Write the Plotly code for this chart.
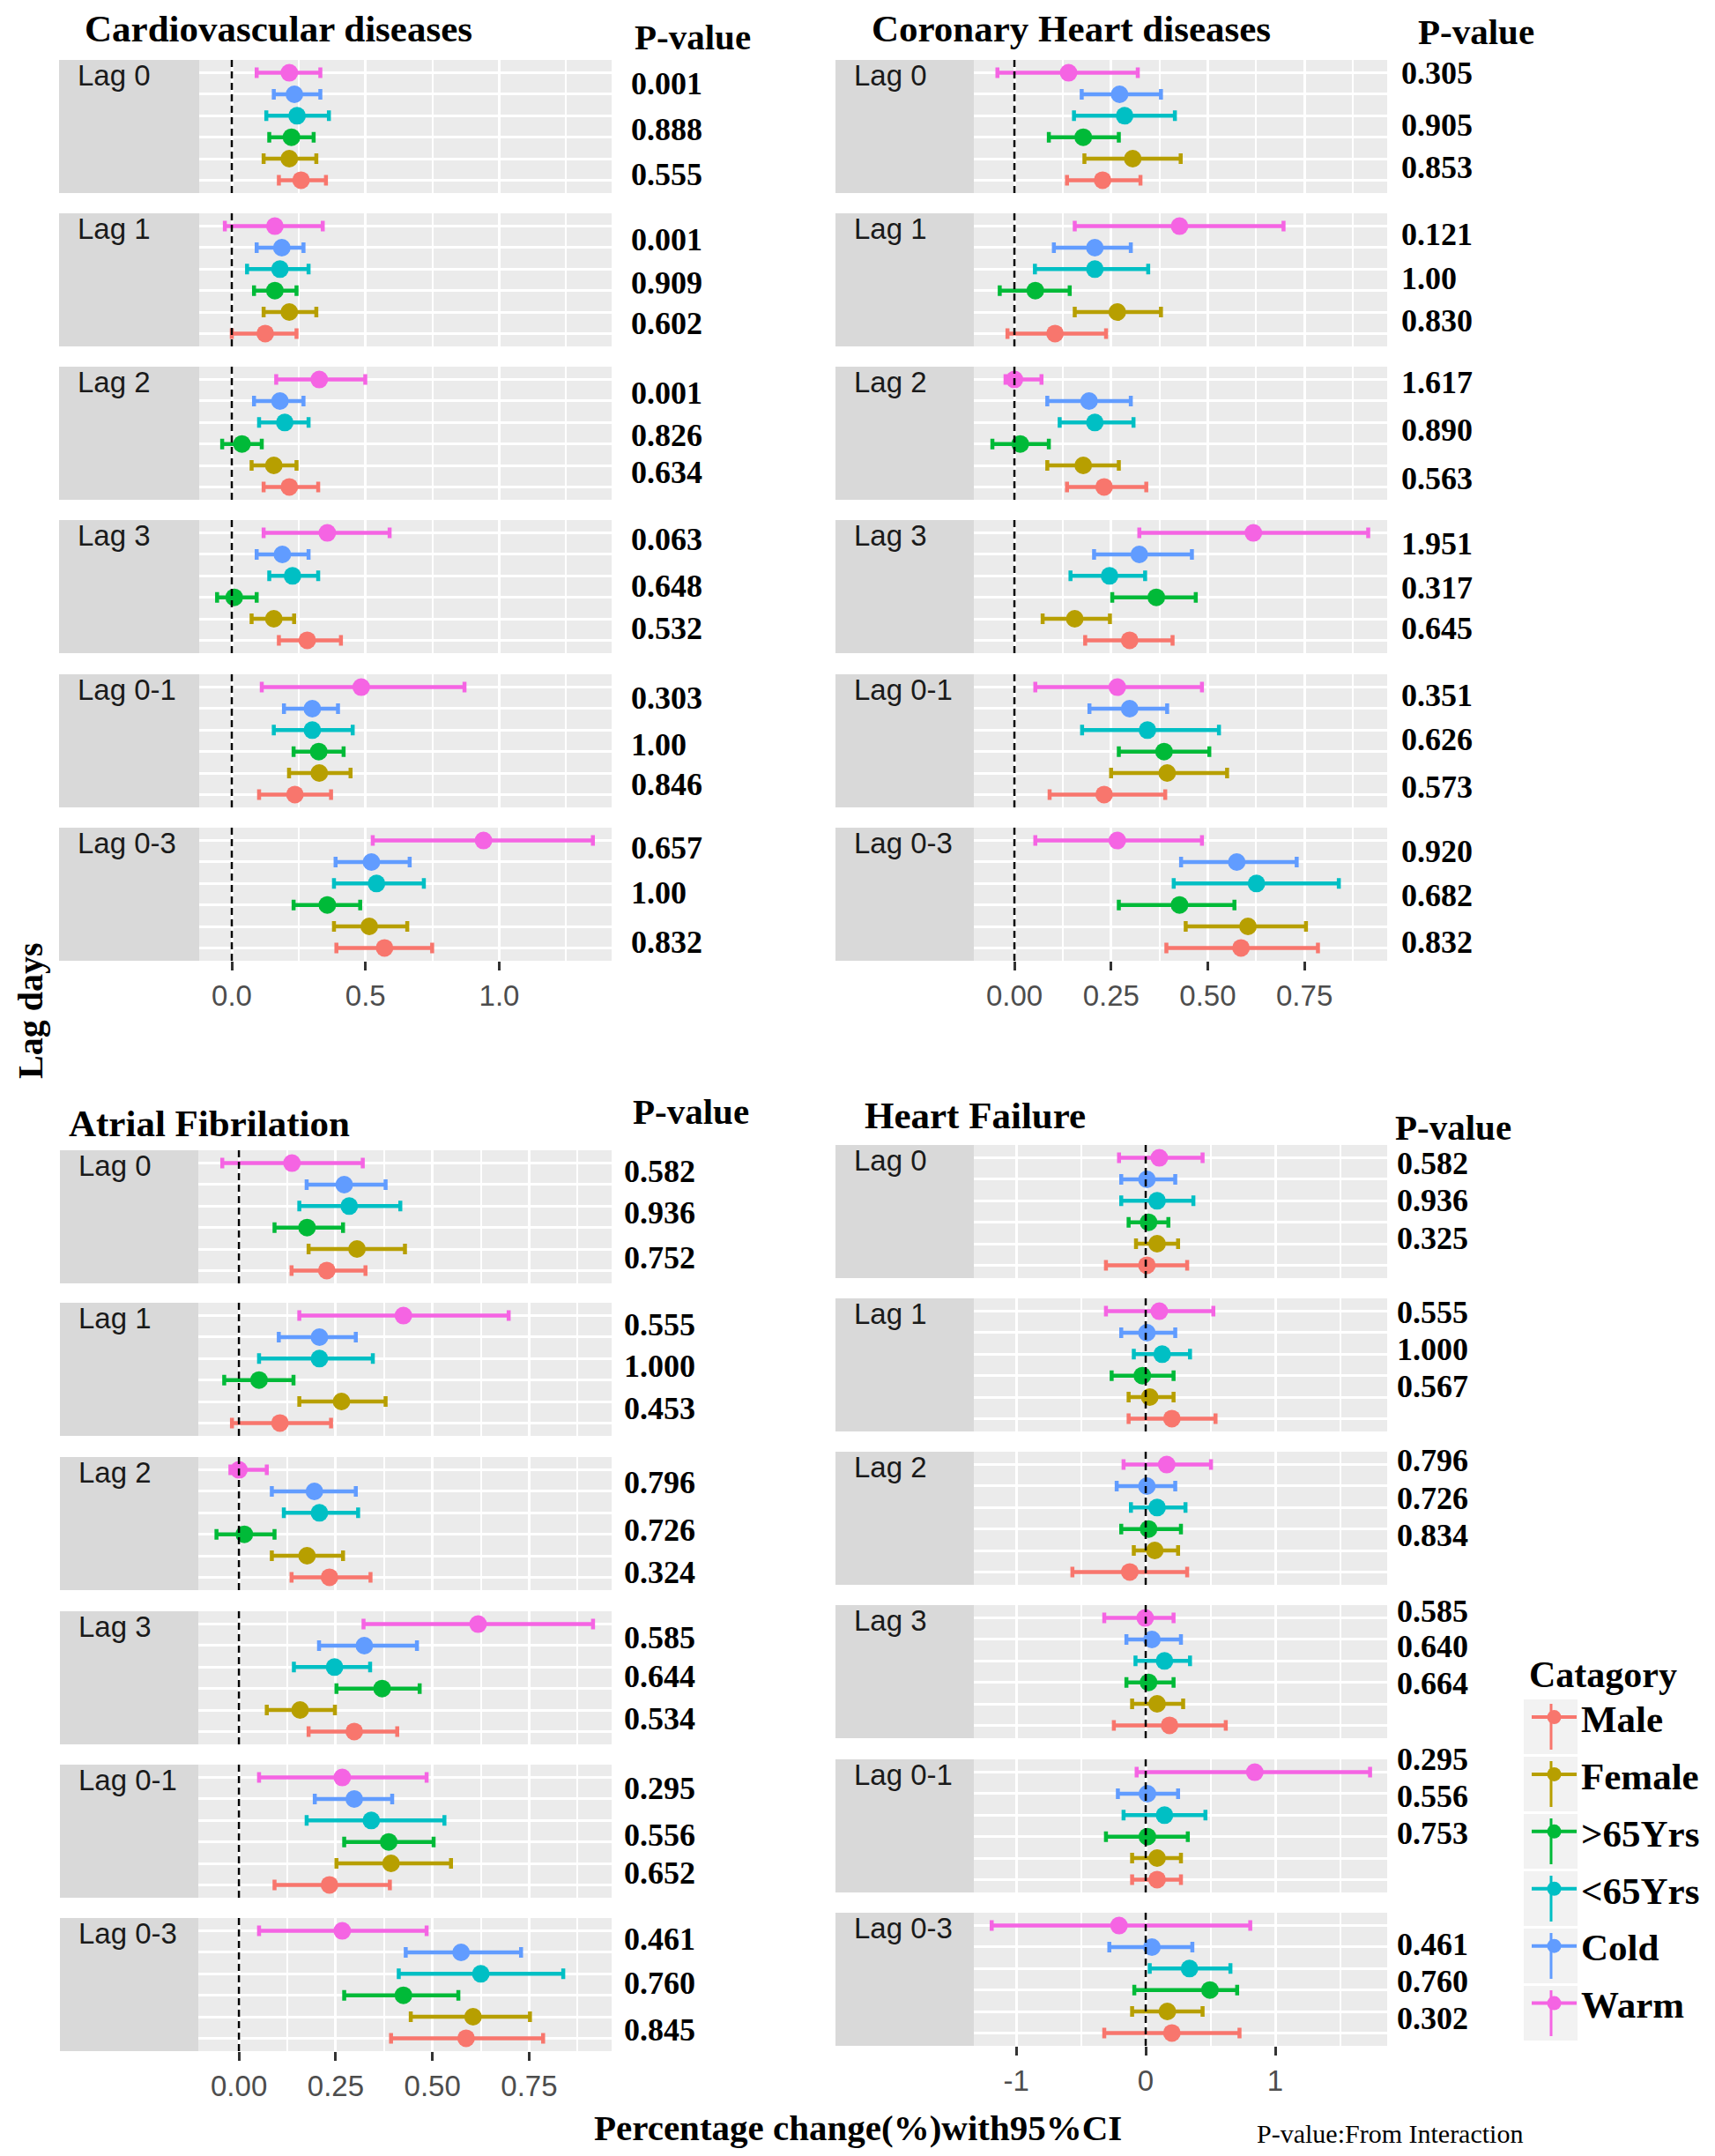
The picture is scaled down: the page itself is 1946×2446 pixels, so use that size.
import plotly.graph_objects as go

# page body has an 8px margin: the figure is drawn 8px in from the top-left corner
OFF = 8
FW, FH = 1946 - 2 * OFF, 2446 - 2 * OFF

# ---------------- data ----------------
categories = ["Male", "Female", ">65Yrs", "<65Yrs", "Cold", "Warm"]
colors = ["#F8766D", "#B79F00", "#00BA38", "#00BFC4", "#619CFF", "#F564E3"]
lags = ["Lag 0", "Lag 1", "Lag 2", "Lag 3", "Lag 0-1", "Lag 0-3"]
diseases = ["Cardiovascular diseases", "Coronary Heart diseases", "Atrial Fibrilation", "Heart Failure"]

# values per lag, in category order (Male, Female, >65Yrs, <65Yrs, Cold, Warm)
cvd_est = [[0.259, 0.215, 0.223, 0.244, 0.234, 0.215],
           [0.125, 0.215, 0.161, 0.180, 0.187, 0.161],
           [0.215, 0.157, 0.038, 0.198, 0.180, 0.327],
           [0.282, 0.157, 0.009, 0.227, 0.189, 0.357],
           [0.236, 0.327, 0.325, 0.301, 0.301, 0.484],
           [0.571, 0.514, 0.357, 0.541, 0.522, 0.941]]
cvd_lo = [[0.176, 0.119, 0.140, 0.129, 0.157, 0.093],
          [0.000, 0.119, 0.083, 0.057, 0.093, -0.026],
          [0.119, 0.074, -0.036, 0.102, 0.083, 0.166],
          [0.176, 0.074, -0.055, 0.140, 0.093, 0.119],
          [0.102, 0.214, 0.231, 0.157, 0.195, 0.112],
          [0.391, 0.382, 0.231, 0.382, 0.388, 0.527]]
cvd_hi = [[0.352, 0.316, 0.306, 0.363, 0.331, 0.331],
          [0.242, 0.316, 0.242, 0.287, 0.268, 0.340],
          [0.323, 0.242, 0.112, 0.287, 0.268, 0.499],
          [0.408, 0.233, 0.093, 0.323, 0.287, 0.590],
          [0.371, 0.444, 0.418, 0.452, 0.397, 0.870],
          [0.749, 0.656, 0.480, 0.718, 0.665, 1.350]]

chd_est = [[0.228, 0.306, 0.178, 0.285, 0.272, 0.140],
           [0.105, 0.266, 0.054, 0.208, 0.208, 0.427],
           [0.232, 0.178, 0.015, 0.208, 0.193, 0.000],
           [0.298, 0.156, 0.367, 0.246, 0.323, 0.618],
           [0.232, 0.395, 0.387, 0.344, 0.298, 0.266],
           [0.586, 0.604, 0.427, 0.626, 0.575, 0.266]]
chd_lo = [[0.136, 0.181, 0.089, 0.154, 0.174, -0.044],
          [-0.018, 0.156, -0.038, 0.053, 0.102, 0.156],
          [0.136, 0.085, -0.057, 0.117, 0.085, -0.023],
          [0.183, 0.073, 0.253, 0.145, 0.206, 0.323],
          [0.091, 0.250, 0.270, 0.175, 0.194, 0.054],
          [0.393, 0.443, 0.270, 0.412, 0.431, 0.054]]
chd_hi = [[0.326, 0.430, 0.270, 0.415, 0.379, 0.319],
          [0.237, 0.379, 0.143, 0.346, 0.301, 0.696],
          [0.341, 0.270, 0.089, 0.308, 0.301, 0.070],
          [0.409, 0.247, 0.469, 0.338, 0.459, 0.915],
          [0.390, 0.550, 0.504, 0.529, 0.395, 0.485],
          [0.785, 0.754, 0.569, 0.839, 0.730, 0.485]]

af_est = [[0.227, 0.305, 0.176, 0.285, 0.272, 0.137],
          [0.106, 0.265, 0.052, 0.208, 0.208, 0.425],
          [0.234, 0.176, 0.014, 0.208, 0.195, 0.000],
          [0.298, 0.158, 0.370, 0.247, 0.324, 0.618],
          [0.234, 0.393, 0.387, 0.342, 0.298, 0.267],
          [0.587, 0.605, 0.425, 0.625, 0.574, 0.267]]
af_lo = [[0.136, 0.180, 0.092, 0.156, 0.175, -0.043],
         [-0.018, 0.156, -0.038, 0.052, 0.103, 0.156],
         [0.136, 0.085, -0.058, 0.116, 0.085, -0.022],
         [0.180, 0.072, 0.252, 0.142, 0.207, 0.322],
         [0.092, 0.252, 0.272, 0.175, 0.196, 0.052],
         [0.393, 0.444, 0.272, 0.413, 0.431, 0.052]]
af_hi = [[0.327, 0.429, 0.269, 0.417, 0.379, 0.320],
         [0.238, 0.379, 0.141, 0.346, 0.302, 0.697],
         [0.340, 0.269, 0.092, 0.308, 0.302, 0.072],
         [0.409, 0.248, 0.467, 0.339, 0.460, 0.915],
         [0.390, 0.548, 0.503, 0.531, 0.396, 0.485],
         [0.786, 0.752, 0.567, 0.838, 0.729, 0.485]]

hf_est = [[0.009, 0.088, 0.022, 0.088, 0.009, 0.105],
          [0.202, 0.031, -0.026, 0.127, 0.009, 0.105],
          [-0.123, 0.070, 0.022, 0.088, 0.009, 0.162],
          [0.184, 0.088, 0.022, 0.145, 0.048, -0.004],
          [0.088, 0.088, 0.013, 0.145, 0.013, 0.842],
          [0.202, 0.167, 0.496, 0.338, 0.048, -0.206]]
hf_lo = [[-0.307, -0.075, -0.132, -0.189, -0.189, -0.206],
         [-0.132, -0.132, -0.263, -0.092, -0.189, -0.307],
         [-0.566, -0.092, -0.189, -0.114, -0.224, -0.171],
         [-0.246, -0.105, -0.149, -0.079, -0.149, -0.320],
         [-0.105, -0.105, -0.307, -0.171, -0.215, -0.070],
         [-0.320, -0.105, -0.088, 0.031, -0.281, -1.189]]
hf_hi = [[0.320, 0.250, 0.175, 0.368, 0.228, 0.439],
         [0.539, 0.215, 0.215, 0.342, 0.228, 0.522],
         [0.320, 0.250, 0.272, 0.307, 0.228, 0.504],
         [0.618, 0.289, 0.215, 0.342, 0.272, 0.215],
         [0.272, 0.272, 0.325, 0.461, 0.250, 1.732],
         [0.724, 0.439, 0.706, 0.654, 0.360, 0.807]]

# interaction p-values (as printed, top to bottom)
cvd_p = ["0.001", "0.888", "0.555", "0.001", "0.909", "0.602", "0.001", "0.826", "0.634",
         "0.063", "0.648", "0.532", "0.303", "1.00", "0.846", "0.657", "1.00", "0.832"]
chd_p = ["0.305", "0.905", "0.853", "0.121", "1.00", "0.830", "1.617", "0.890", "0.563",
         "1.951", "0.317", "0.645", "0.351", "0.626", "0.573", "0.920", "0.682", "0.832"]
af_p = ["0.582", "0.936", "0.752", "0.555", "1.000", "0.453", "0.796", "0.726", "0.324",
        "0.585", "0.644", "0.534", "0.295", "0.556", "0.652", "0.461", "0.760", "0.845"]
hf_p = ["0.582", "0.936", "0.325", "0.555", "1.000", "0.567", "0.796", "0.726", "0.834",
        "0.585", "0.640", "0.664", "0.295", "0.556", "0.753", "0.461", "0.760", "0.302"]

# x-axis ticks per panel
cvd_ticks = [0.0, 0.5, 1.0]; cvd_ticklabels = ["0.0", "0.5", "1.0"]
chd_ticks = [0.0, 0.25, 0.5, 0.75]; chd_ticklabels = ["0.00", "0.25", "0.50", "0.75"]
af_ticks = [0.0, 0.25, 0.5, 0.75]; af_ticklabels = ["0.00", "0.25", "0.50", "0.75"]
hf_ticks = [-1, 0, 1]; hf_ticklabels = ["-1", "0", "1"]

# ---------------- layout helpers (page pixel -> paper) ----------------
def px(x):
    return (x - OFF) / FW

def py(y):
    return 1 - (y - OFF) / FH

SERIF = "Liberation Serif, Times New Roman, serif"
SANS = "Liberation Sans, Arial, sans-serif"

panels = [
    dict(est=cvd_est, lo=cvd_lo, hi=cvd_hi, p=cvd_p, ticks=cvd_ticks, tl=cvd_ticklabels,
         minor=[0.25, 0.75, 1.25], strip=(67, 226), plot=(226, 694),
         tops=[68, 242, 416, 590, 765, 939], xr=[-0.122, 1.42],
         title_xy=(95, 24), ph_xy=(718, 42), px_=714,
         py_=[95, 147, 198, 272, 321, 367, 446, 494, 536, 612, 665, 713, 792, 845, 890, 962, 1013, 1069]),
    dict(est=chd_est, lo=chd_lo, hi=chd_hi, p=chd_p, ticks=chd_ticks, tl=chd_ticklabels,
         minor=[0.125, 0.375, 0.625, 0.875], strip=(948, 1105), plot=(1105, 1574),
         tops=[68, 242, 416, 590, 765, 939], xr=[-0.105, 0.964],
         title_xy=(988, 24), ph_xy=(1607, 36), px_=1588,
         py_=[83, 142, 190, 266, 316, 364, 434, 488, 543, 617, 667, 713, 789, 839, 893, 966, 1016, 1069]),
    dict(est=af_est, lo=af_lo, hi=af_hi, p=af_p, ticks=af_ticks, tl=af_ticklabels,
         minor=[0.125, 0.375, 0.625, 0.875], strip=(68, 225), plot=(225, 694),
         tops=[1305, 1478, 1653, 1828, 2002, 2176], xr=[-0.105, 0.963],
         title_xy=(77, 1273), ph_xy=(716, 1261), px_=706,
         py_=[1329, 1376, 1427, 1503, 1550, 1598, 1682, 1736, 1784, 1858, 1902, 1950, 2029, 2082, 2125, 2200, 2250, 2303]),
    dict(est=hf_est, lo=hf_lo, hi=hf_hi, p=hf_p, ticks=hf_ticks, tl=hf_ticklabels,
         minor=[-0.5, 0.5, 1.5], strip=(948, 1105), plot=(1105, 1574),
         tops=[1299, 1473, 1647, 1821, 1996, 2170], xr=[-1.327, 1.864],
         title_xy=(980, 1264), ph_xy=(1581, 1279), px_=1583,
         py_=[1320, 1362, 1405, 1489, 1531, 1573, 1657, 1700, 1742, 1828, 1868, 1910, 1996, 2038, 2080, 2206, 2248, 2290]),
]
FACET_H = 151

fig = go.Figure()
layout = dict(
    width=FW, height=FH, margin=dict(l=0, r=0, t=0, b=0),
    paper_bgcolor="white", plot_bgcolor="#EBEBEB", showlegend=True,
)
shapes = []
annotations = []

k = 0
for pi, pn in enumerate(panels):
    for li, lag in enumerate(lags):
        k += 1
        xa = "x" if k == 1 else f"x{k}"
        ya = "y" if k == 1 else f"y{k}"
        xkey = "xaxis" if k == 1 else f"xaxis{k}"
        ykey = "yaxis" if k == 1 else f"yaxis{k}"
        top = pn["tops"][li]
        bottom = top + FACET_H
        last = li == len(lags) - 1
        layout[xkey] = dict(
            domain=[px(pn["plot"][0]), px(pn["plot"][1])], range=pn["xr"], anchor=ya,
            tickmode="array", tickvals=pn["ticks"], ticktext=pn["tl"],
            showticklabels=last, ticks="outside" if last else "", ticklen=10, tickwidth=2.5,
            tickcolor="#333333", showgrid=True, gridcolor="white", gridwidth=3,
            minor=dict(tickmode="array", tickvals=pn["minor"], showgrid=True, gridcolor="white",
                       gridwidth=2, ticks=""),
            zeroline=False, showline=False,
            tickfont=dict(family=SANS, size=33, color="#4D4D4D"), fixedrange=True,
        )
        layout[ykey] = dict(
            domain=[py(bottom), py(top)], anchor=xa, type="category",
            categoryorder="array", categoryarray=categories, range=[-0.6, 5.6],
            showticklabels=False, ticks="", showgrid=True, gridcolor="white", gridwidth=2.5,
            zeroline=False, showline=False, fixedrange=True,
        )
        for ci, cat in enumerate(categories):
            e = pn["est"][li][ci]
            lo = pn["lo"][li][ci]
            hi = pn["hi"][li][ci]
            fig.add_trace(go.Scatter(
                x=[e], y=[cat], xaxis=xa, yaxis=ya, mode="markers",
                marker=dict(color=colors[ci], size=20),
                error_x=dict(type="data", symmetric=False, array=[hi - e], arrayminus=[e - lo],
                             color=colors[ci], thickness=4.5, width=6),
                showlegend=False, hoverinfo="skip",
            ))
        # strip
        shapes.append(dict(type="rect", xref="paper", yref="paper",
                           x0=px(pn["strip"][0]), x1=px(pn["strip"][1]),
                           y0=py(bottom), y1=py(top), fillcolor="#D9D9D9",
                           line=dict(width=0), layer="below"))
        annotations.append(dict(text=lag, xref="paper", yref="paper",
                                x=px(pn["strip"][0] + 19), y=py(top - 3),
                                xanchor="left", yanchor="top", showarrow=False,
                                font=dict(family=SANS, size=33, color="#1A1A1A")))
        # dashed zero line
        shapes.append(dict(type="line", xref=xa, yref=f"{ya} domain", x0=0, x1=0, y0=0, y1=1,
                           line=dict(color="black", width=2.5, dash="8px,5px"), layer="above"))
    # titles
    annotations.append(dict(text=f"<b>{diseases[pi]}</b>", xref="paper", yref="paper",
                            x=px(pn["title_xy"][0]), y=min(1.0, py(pn["title_xy"][1] - 23)),
                            xanchor="left", yanchor="top", showarrow=False, borderpad=0,
                            font=dict(family=SERIF, size=43, color="black")))
    annotations.append(dict(text="<b>P-value</b>", xref="paper", yref="paper",
                            x=px(pn["ph_xy"][0]), y=py(pn["ph_xy"][1]),
                            xanchor="left", yanchor="middle", showarrow=False,
                            font=dict(family=SERIF, size=41, color="black")))
    for txt, yy in zip(pn["p"], pn["py_"]):
        annotations.append(dict(text=f"<b>{txt}</b>", xref="paper", yref="paper",
                                x=px(pn["px_"]), y=py(yy), xanchor="left", yanchor="middle",
                                showarrow=False, font=dict(family=SERIF, size=36, color="black")))

annotations.append(dict(text="<b>Percentage change(%)with95%CI</b>", xref="paper", yref="paper",
                        x=px(973), y=0.0, xanchor="center", yanchor="bottom", showarrow=False,
                        borderpad=0, font=dict(family=SERIF, size=41, color="black")))
annotations.append(dict(text="P-value:From Interaction", xref="paper", yref="paper",
                        x=px(1577), y=0.0, xanchor="center", yanchor="bottom", showarrow=False,
                        borderpad=0, font=dict(family=SERIF, size=30, color="black")))
annotations.append(dict(text="<b>Lag days</b>", xref="paper", yref="paper",
                        x=px(34), y=py(1147), xanchor="center", yanchor="middle", showarrow=False,
                        textangle=-90, font=dict(family=SERIF, size=40, color="black")))

# legend entries
for ci, cat in enumerate(categories):
    fig.add_trace(go.Scatter(
        x=[None], y=[None], xaxis="x", yaxis="y", mode="lines+markers", name=f"<b>{cat}</b>",
        marker=dict(color=colors[ci], size=17), line=dict(color=colors[ci], width=4),
        legendgroup=cat, showlegend=True,
    ))
    # grey key background with the vertical bar of the pointrange key
    cy = 1959 + 65 * ci
    shapes.append(dict(type="rect", xref="paper", yref="paper", x0=px(1729), x1=px(1790),
                       y0=py(cy + 31), y1=py(cy - 31), fillcolor="#F2F2F2",
                       line=dict(width=0), layer="above"))
    shapes.append(dict(type="line", xref="paper", yref="paper", x0=px(1760), x1=px(1760),
                       y0=py(cy + 26), y1=py(cy - 26), line=dict(color=colors[ci], width=3),
                       layer="above"))

layout["legend"] = dict(
    x=px(1733), y=py(1859), xanchor="left", yanchor="top", bgcolor="rgba(0,0,0,0)",
    title=dict(text="<b>Catagory</b>", font=dict(family=SERIF, size=42, color="black")),
    font=dict(family=SERIF, size=43, color="black"), tracegroupgap=6, traceorder="grouped",
    itemwidth=51,
)
layout["shapes"] = shapes
layout["annotations"] = annotations
fig.update_layout(**layout)

fig.write_html("out.html")
